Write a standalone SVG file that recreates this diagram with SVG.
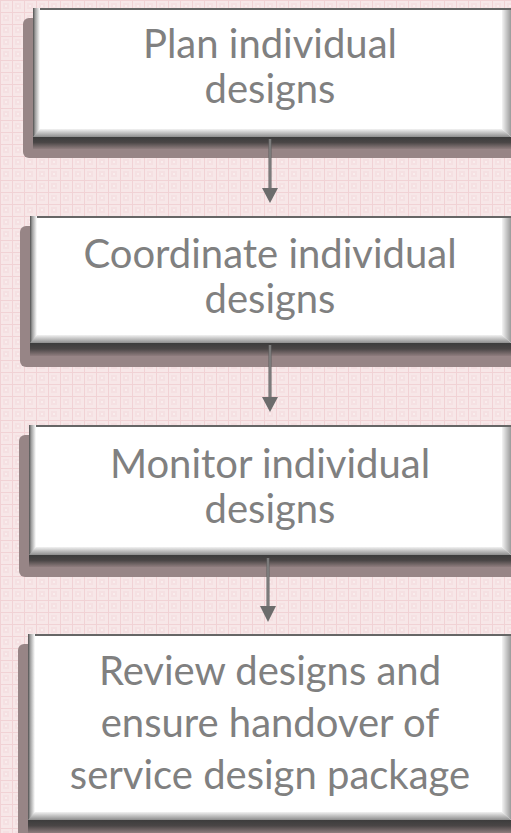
<svg xmlns="http://www.w3.org/2000/svg" width="511" height="833" viewBox="0 0 511 833">
  <defs>
    <!-- pink graph-paper backdrop -->
    <pattern id="grid" width="12" height="12" patternUnits="userSpaceOnUse">
      <rect width="12" height="12" fill="#f7e7e8"/>
      <rect x="3" y="3" width="6" height="6" fill="#f5e0e2"/>
      <rect x="5" y="5" width="2" height="2" fill="#f9eded"/>
      <path d="M0 0.5H12M0.5 0V12" stroke="#f1d2d5" stroke-width="1"/>
    </pattern>
    <linearGradient id="bevelBottom" x1="0" y1="0" x2="0" y2="1">
      <stop offset="0" stop-color="#f2f2f2"/>
      <stop offset="0.45" stop-color="#c4c4c4"/>
      <stop offset="1" stop-color="#8d8d8d"/>
    </linearGradient>
    <linearGradient id="bevelRight" x1="0" y1="0" x2="1" y2="0">
      <stop offset="0" stop-color="#f4f4f4"/>
      <stop offset="1" stop-color="#9a9a9a"/>
    </linearGradient>
    <linearGradient id="bevelLeft" x1="0" y1="0" x2="1" y2="0">
      <stop offset="0" stop-color="#4e4e4e"/>
      <stop offset="0.3" stop-color="#9c9c9c"/>
      <stop offset="1" stop-color="#ffffff"/>
    </linearGradient>
    <linearGradient id="shadowBand" x1="0" y1="0" x2="0" y2="1">
      <stop offset="0" stop-color="#3c3c3c"/>
      <stop offset="0.45" stop-color="#4a4646"/>
      <stop offset="1" stop-color="#8f7d7e"/>
    </linearGradient>
    <linearGradient id="shaft" x1="0" y1="0" x2="1" y2="0">
      <stop offset="0" stop-color="#5e5e5e"/>
      <stop offset="0.5" stop-color="#8a8a8a"/>
      <stop offset="1" stop-color="#5e5e5e"/>
    </linearGradient>
    <style>
      .shadow { fill: #978586; }
      .face { fill: #ffffff; }
      .edge { fill: #666666; }
      .label { font-family: "Lato", "Liberation Sans", sans-serif; font-size: 40px; fill: #808080; text-anchor: middle; }
      .head { fill: #6c6c6c; }
    </style>
  </defs>

  <rect width="511" height="833" fill="url(#grid)"/>

  <!-- step 1 -->
  <g id="plan">
    <rect class="shadow" x="23" y="18" width="500" height="140" rx="6"/>
    <rect x="33" y="137" width="478" height="12" fill="url(#shadowBand)"/>
    <rect class="face" x="33" y="8" width="478" height="129"/>
    <rect class="edge" x="33" y="8" width="478" height="2"/>
    <rect x="33" y="8" width="7" height="129" fill="url(#bevelLeft)"/>
    <polygon points="502,10 511,10 511,137 502,129" fill="url(#bevelRight)"/>
    <polygon points="40,129 502,129 511,137 33,137" fill="url(#bevelBottom)"/>
    <text class="label" x="270" y="58">Plan individual</text>
    <text class="label" x="270" y="103">designs</text>
  </g>

  <!-- step 2 -->
  <g id="coordinate">
    <rect class="shadow" x="20" y="226" width="500" height="141" rx="6"/>
    <rect x="30" y="343" width="481" height="13" fill="url(#shadowBand)"/>
    <rect class="face" x="30" y="216" width="481" height="127"/>
    <rect class="edge" x="30" y="216" width="481" height="2"/>
    <rect x="30" y="216" width="7" height="127" fill="url(#bevelLeft)"/>
    <polygon points="502,218 511,218 511,343 502,335" fill="url(#bevelRight)"/>
    <polygon points="37,335 502,335 511,343 30,343" fill="url(#bevelBottom)"/>
    <text class="label" x="270" y="268">Coordinate individual</text>
    <text class="label" x="270" y="313">designs</text>
  </g>

  <!-- step 3 -->
  <g id="monitor">
    <rect class="shadow" x="19" y="435" width="500" height="142" rx="6"/>
    <rect x="29" y="555" width="482" height="12" fill="url(#shadowBand)"/>
    <rect class="face" x="29" y="425" width="482" height="130"/>
    <rect class="edge" x="29" y="425" width="482" height="2"/>
    <rect x="29" y="425" width="7" height="130" fill="url(#bevelLeft)"/>
    <polygon points="502,427 511,427 511,555 502,547" fill="url(#bevelRight)"/>
    <polygon points="36,547 502,547 511,555 29,555" fill="url(#bevelBottom)"/>
    <text class="label" x="270" y="478">Monitor individual</text>
    <text class="label" x="270" y="523">designs</text>
  </g>

  <!-- step 4 -->
  <g id="review">
    <rect class="shadow" x="18" y="644" width="500" height="200" rx="6"/>
    <rect x="28" y="820" width="483" height="13" fill="url(#shadowBand)"/>
    <rect class="face" x="28" y="634" width="483" height="186"/>
    <rect class="edge" x="28" y="634" width="483" height="2"/>
    <rect x="28" y="634" width="7" height="186" fill="url(#bevelLeft)"/>
    <polygon points="502,636 511,636 511,820 502,812" fill="url(#bevelRight)"/>
    <polygon points="35,812 502,812 511,820 28,820" fill="url(#bevelBottom)"/>
    <text class="label" x="270" y="685">Review designs and</text>
    <text class="label" x="270" y="737">ensure handover of</text>
    <text class="label" x="270" y="789">service design package</text>
  </g>

  <!-- connectors -->
  <g id="connectors">
    <rect x="268.5" y="139" width="3" height="50" fill="url(#shaft)"/>
    <polygon class="head" points="262,188 278,188 270,203"/>
    <rect x="268.5" y="345" width="3" height="53" fill="url(#shaft)"/>
    <polygon class="head" points="262,397 278,397 270,412"/>
    <rect x="266.5" y="558" width="3" height="49" fill="url(#shaft)"/>
    <polygon class="head" points="260,606 276,606 268,622"/>
  </g>
</svg>
